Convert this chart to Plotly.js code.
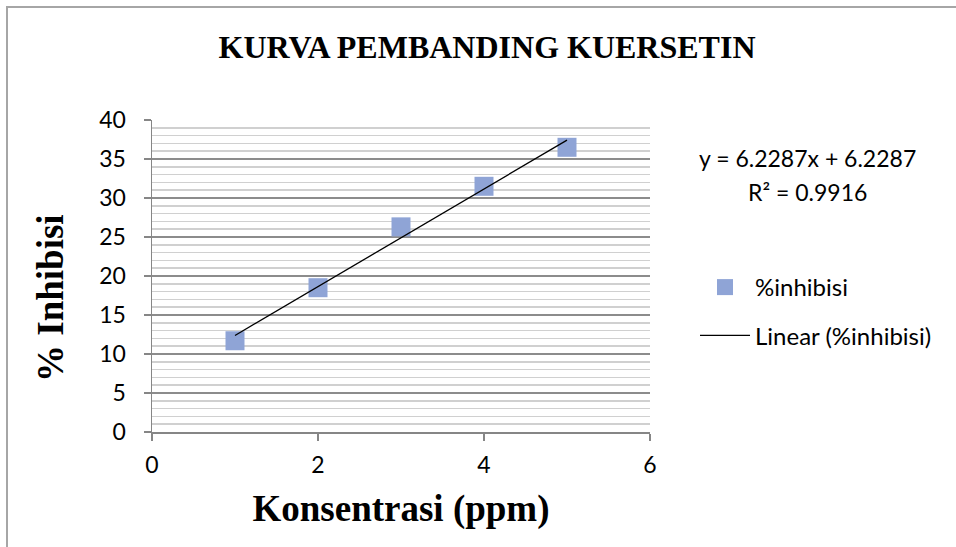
<!DOCTYPE html>
<html><head><meta charset="utf-8">
<script src="https://cdn.plot.ly/plotly-3.0.1.min.js"></script>
<style>
html,body{margin:0;padding:0;background:#fff;}
#frame{position:absolute;left:6px;top:6px;width:960px;height:560px;border-left:2px solid #a6a6a6;border-top:2px solid #a6a6a6;}
#chart{position:absolute;left:0;top:0;width:956px;height:547px;}
</style></head>
<body>
<div id="frame"></div>
<div id="chart"></div>
<script>
const concentrations = [1, 2, 3, 4, 5];
const inhibition = [11.7, 18.5, 26.3, 31.5, 36.5];
const xTicks = [0, 2, 4, 6];
const yTicks = [0, 5, 10, 15, 20, 25, 30, 35, 40];
const equationText = 'y = 6.2287x + 6.2287';
const r2Text = 'R² = 0.9916';
const seriesName = '%inhibisi';
const trendName = 'Linear (%inhibisi)';
const yTitle = '<b>% Inhibisi</b>';
const xTitle = '<b>Konsentrasi (ppm)</b>';
const chartTitle = '<b>KURVA PEMBANDING KUERSETIN</b>';

// least-squares trendline from the data
const n = concentrations.length;
const mx = concentrations.reduce((a,b)=>a+b,0)/n;
const my = inhibition.reduce((a,b)=>a+b,0)/n;
let sxy=0, sxx=0;
for (let i=0;i<n;i++){ sxy += (concentrations[i]-mx)*(inhibition[i]-my); sxx += (concentrations[i]-mx)**2; }
const slope = sxy/sxx, intercept = my - slope*mx;
const trendX = [concentrations[0], concentrations[n-1]];
const trendY = trendX.map(x => slope*x + intercept);

const serif = 'Liberation Serif, Times New Roman, serif';
const sans = 'Lato, Open Sans, sans-serif';

const L = 152, R = 650, T = 120, B = 432;
const px = x => (x - L) / (R - L);
const py = y => (B - y) / (B - T);

const traces = [
  {x: concentrations, y: inhibition, type:'scatter', mode:'markers', name: seriesName, legendgroup:'a',
   marker:{symbol:'square', size:19, color:'#8fa4d6'}},
  {x: trendX, y: trendY, type:'scatter', mode:'lines', name: trendName, legendgroup:'b',
   line:{color:'#000', width:1.3}}
];

const layout = {
  width:956, height:547,
  paper_bgcolor:'rgba(0,0,0,0)', plot_bgcolor:'rgba(0,0,0,0)',
  margin:{l:L, r:956-R, t:T, b:547-B},
  title:{text:chartTitle, font:{family:serif, size:32, color:'#000'},
         x:487/956, xanchor:'center', y:1-47/547, yanchor:'middle'},
  xaxis:{range:[0,6], tickvals:xTicks, showgrid:false, zeroline:false,
         showline:true, linecolor:'#868686', linewidth:1.5,
         ticks:'outside', ticklen:7, tickcolor:'#868686', tickwidth:1.5,
         ticklabelstandoff:5,
         tickfont:{family:sans, size:23, color:'#000'},
         title:{text:xTitle, font:{family:serif, size:37, color:'#000'}, standoff:18}},
  yaxis:{range:[0,40], tickvals:yTicks, showgrid:true, gridcolor:'#8c8c8c', gridwidth:1.5,
         zeroline:false, showline:true, linecolor:'#868686', linewidth:1.5,
         ticks:'outside', ticklen:7, tickcolor:'#868686', tickwidth:1.5,
         ticklabelstandoff:13,
         tickfont:{family:sans, size:23, color:'#000'},
         minor:{dtick:1, showgrid:true, gridcolor:'#d0d0d0', gridwidth:1.5, ticks:''}},
  legend:{x:px(695), xanchor:'left', y:py(265), yanchor:'top',
          font:{family:sans, size:24, color:'#000'}, traceorder:'grouped', tracegroupgap:14,
          bgcolor:'rgba(0,0,0,0)', itemwidth:50},
  annotations:[
    {xref:'paper', yref:'paper', x:px(807), y:py(158), text:equationText, showarrow:false,
     font:{family:sans, size:23, color:'#000'}, xanchor:'center', yanchor:'middle'},
    {xref:'paper', yref:'paper', x:px(807), y:py(192), text:r2Text, showarrow:false,
     font:{family:sans, size:23, color:'#000'}, xanchor:'center', yanchor:'middle'},
    {xref:'paper', yref:'paper', x:px(50), y:py(298), text:yTitle, showarrow:false, textangle:-90,
     font:{family:serif, size:37, color:'#000'}, xanchor:'center', yanchor:'middle'}
  ],
  showlegend:true
};
Plotly.newPlot('chart', traces, layout, {displayModeBar:false, staticPlot:true});
</script>
</body></html>
